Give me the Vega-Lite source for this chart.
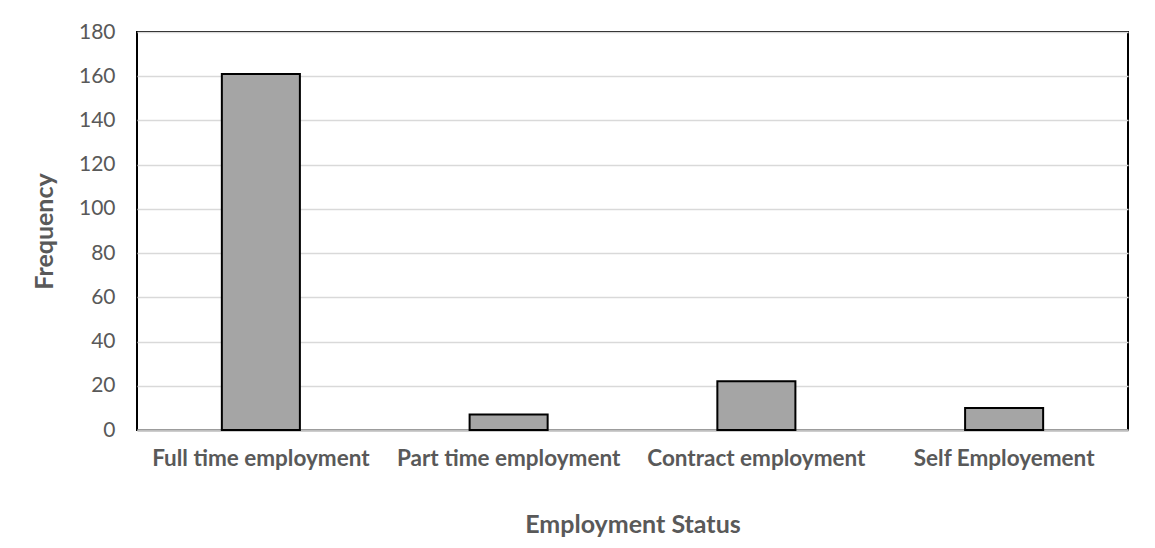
{
  "$schema": "https://vega.github.io/schema/vega-lite/v6.json",
  "autosize": {"type": "none"},
  "padding": {"left": 137, "top": 32, "right": 27, "bottom": 118},
  "width": 991,
  "height": 398,
  "background": "white",
  "data": {
    "values": [
      {"status": "Full time employment", "frequency": 161},
      {"status": "Part time employment", "frequency": 7},
      {"status": "Contract employment", "frequency": 22},
      {"status": "Self Employement", "frequency": 10}
    ]
  },
  "mark": {"type": "bar", "fill": "#a5a5a5", "stroke": "#000000", "strokeWidth": 2},
  "encoding": {
    "x": {
      "field": "status",
      "type": "nominal",
      "sort": null,
      "scale": {"paddingInner": 0.685, "paddingOuter": 0.3425},
      "axis": {
        "title": "Employment Status",
        "labelAngle": 0,
        "labelLimit": 0,
        "labelFont": "Lato",
        "labelFontWeight": "bold",
        "labelFontSize": 22.5,
        "labelColor": "#595959",
        "labelPadding": 17,
        "ticks": false,
        "domainColor": "#bfbfbf",
        "domainWidth": 2.5,
        "titleFont": "Lato",
        "titleFontWeight": "bold",
        "titleFontSize": 25,
        "titleColor": "#595959",
        "titlePadding": 43
      }
    },
    "y": {
      "field": "frequency",
      "type": "quantitative",
      "scale": {"domain": [0, 180]},
      "axis": {
        "title": "Frequency",
        "values": [0, 20, 40, 60, 80, 100, 120, 140, 160, 180],
        "domain": false,
        "ticks": false,
        "gridColor": "#d9d9d9",
        "gridWidth": 1.5,
        "labelFont": "Lato",
        "labelFontSize": 21,
        "labelColor": "#595959",
        "labelPadding": 22,
        "titleFont": "Lato",
        "titleFontWeight": "bold",
        "titleFontSize": 25,
        "titleColor": "#595959",
        "titlePadding": 21
      }
    }
  },
  "config": {
    "view": {"stroke": "#000000", "strokeWidth": 2}
  }
}
